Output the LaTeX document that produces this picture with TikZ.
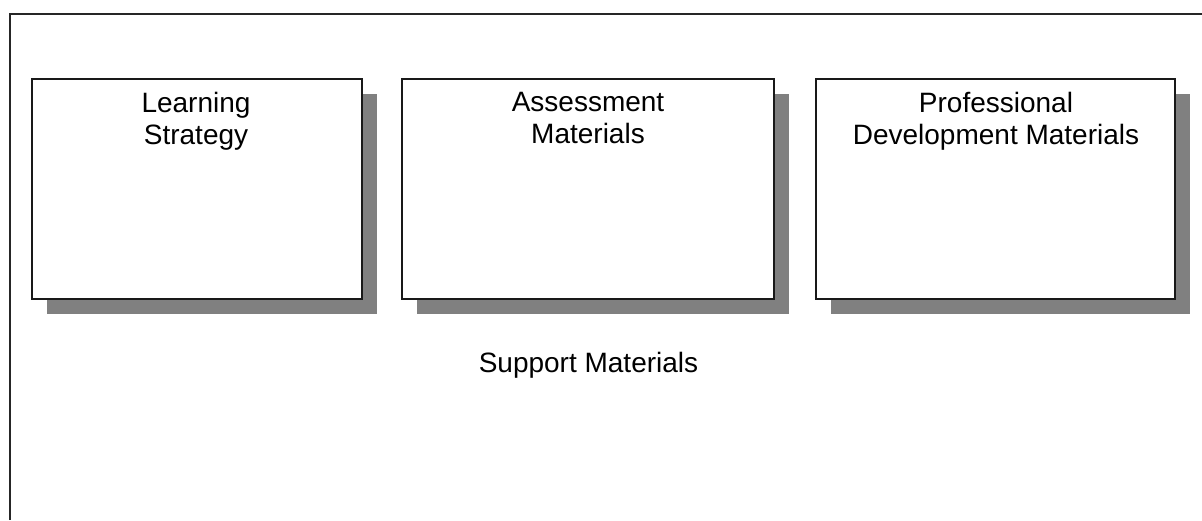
\documentclass[tikz,border=0pt]{standalone}
\usepackage{fontspec}
\setmainfont{Liberation Sans}
\begin{document}
\begin{tikzpicture}[x=1pt,y=-1pt,
  frame/.style={draw=black!85,line width=2pt},
  box/.style={draw=black!90,line width=1.8pt,fill=white,line join=miter},
  shadow/.style={fill=black!50},
  lbl/.style={anchor=north,inner sep=0pt,align=center,font=\fontsize{28}{32}\selectfont}
]
\useasboundingbox (0,0) rectangle (1202,520);
\fill[white] (0,0) rectangle (1202,520);
% outer frame (only left and top edges visible)
\coordinate (fbl) at (10.3,520);
\coordinate (ftl) at (10.3,13.7);
\coordinate (ftr) at (1202,13.7);
\draw[frame] (fbl) -- (ftl) -- (ftr);
% shadows
\fill[shadow] (47,94.3) rectangle (377,314.3);
\fill[shadow] (417,94.3) rectangle (789,314.3);
\fill[shadow] (831,94.3) rectangle (1190,314.3);
% boxes
\draw[box] (32,79.3) rectangle (362,299.3);
\draw[box] (402,79.3) rectangle (774,299.3);
\draw[box] (816,79.3) rectangle (1175,299.3);
% labels
\node[lbl] (l1) at (196,92) {Learning\\Strategy};
\node[lbl] (l2) at (588,92) {Assessment\\Materials};
\node[lbl] (l3) at (996,92) {Professional\\Development Materials};
\node[lbl] (sm) at (588.5,352) {Support Materials};
\end{tikzpicture}
\end{document}
